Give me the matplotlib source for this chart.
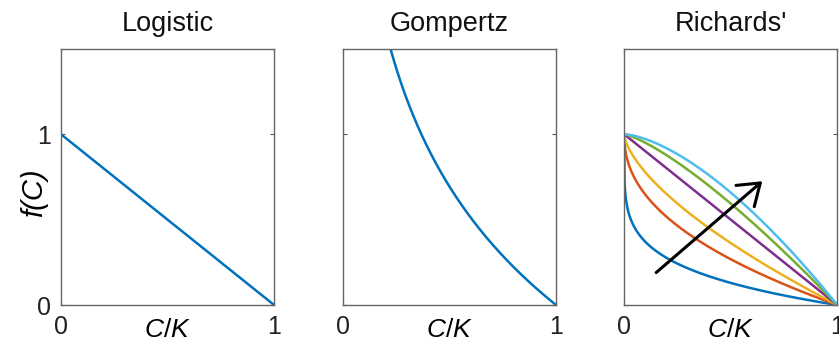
import numpy as np
import matplotlib.pyplot as plt

plt.rcParams['font.family'] = ['Liberation Sans', 'DejaVu Sans']
plt.rcParams['mathtext.fontset'] = 'custom'
plt.rcParams['mathtext.rm'] = 'Liberation Sans'
plt.rcParams['mathtext.it'] = 'Liberation Sans:italic'

# model parameters
titles = ["Logistic", "Gompertz", "Richards'"]
logistic_r = 1.0
gompertz_scale = 1.0
richards_nu = [0.2, 0.45, 0.65, 1.0, 1.3, 1.55]
richards_colors = ["#0072BD", "#D95319", "#EDB120", "#7E2F8E", "#77AC30", "#4DBEEE"]
arrow_start = (0.15, 0.19)
arrow_end = (0.648, 0.725)

x = np.linspace(1e-6, 1, 600)

fig = plt.figure(figsize=(8.39, 3.47), dpi=100)
lefts = [0.0727, 0.4088, 0.744]
axes = [fig.add_axes([l, 0.121, 0.254, 0.738]) for l in lefts]

axes[0].plot(x, logistic_r * (1 - x), color="#0072BD", lw=1.8)
axes[1].plot(x, -gompertz_scale * np.log(x), color="#0072BD", lw=1.8)
for nu, c in zip(richards_nu, richards_colors):
    axes[2].plot(x, 1 - x ** nu, color=c, lw=1.8)

axes[2].annotate("", xy=arrow_end, xytext=arrow_start,
                 arrowprops=dict(arrowstyle="->, head_length=0.4, head_width=0.28",
                                 color="black", lw=2.2,
                                 mutation_scale=36, shrinkA=0, shrinkB=0))

for i, ax in enumerate(axes):
    ax.set_xlim(0, 1)
    ax.set_ylim(0, 1.5)
    ax.set_xticks([0, 1])
    ax.set_xticklabels(["0", "1"])
    ax.set_yticks([0, 1])
    if i == 0:
        ax.set_yticklabels(["0", "1"])
        ax.set_ylabel("f(C)", fontsize=21, style="italic")
        ax.yaxis.set_label_coords(-0.06, 0.44)
    else:
        ax.set_yticklabels([])
    ax.tick_params(direction="in", length=3, width=0.8, color="#555555",
                   labelsize=18, labelcolor="#222222", right=True, top=True,
                   pad=7)
    for s in ax.spines.values():
        s.set_color("#666666")
        s.set_linewidth(1.0)
    ax.set_xlabel("$C/K$", fontsize=19)
    ax.xaxis.set_label_coords(0.5, -0.05)
    ax.set_title(titles[i], fontsize=19.5, pad=13, color="#111111")

fig.savefig("out.png", dpi=100)
